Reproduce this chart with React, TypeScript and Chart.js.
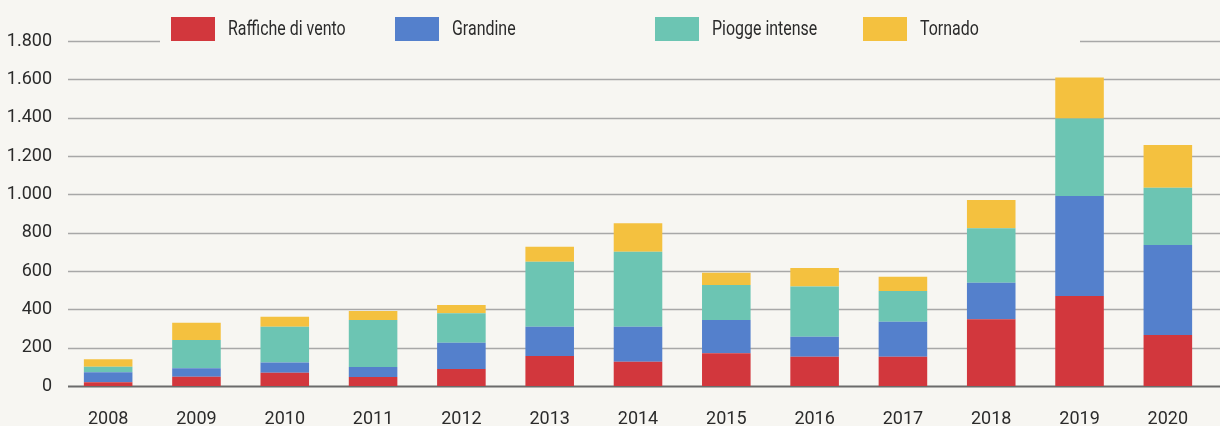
import React, { useEffect, useRef } from "react";
import { Chart, registerables } from "chart.js";

Chart.register(...registerables);

const years = ["2008", "2009", "2010", "2011", "2012", "2013", "2014", "2015", "2016", "2017", "2018", "2019", "2020"];
const raffiche = [20, 48, 69, 47, 89, 156, 127, 171, 153, 153, 348, 469, 266];
const grandine = [52, 44, 53, 52, 137, 153, 182, 173, 104, 182, 191, 522, 470];
const piogge = [28, 148, 187, 245, 153, 339, 392, 183, 262, 161, 284, 405, 298];
const tornado = [40, 90, 52, 47, 44, 79, 148, 64, 97, 74, 147, 214, 223];
const seriesNames = ["Raffiche di vento", "Grandine", "Piogge intense", "Tornado"];
const seriesColors = ["#d2373d", "#5480cc", "#6cc5b3", "#f4c13f"];
const yTicks = [0, 200, 400, 600, 800, 1000, 1200, 1400, 1600, 1800];

const BG = "#f7f6f2";
const FONT = "Roboto, sans-serif";
const TEXT = "#2b2b2b";
const legendX = [171, 395, 655, 863];

function fmt(v: number): string {
  return String(v).replace(/\B(?=(\d{3})+(?!\d))/g, ".");
}

const bgPlugin = {
  id: "bgPlugin",
  beforeDraw(chart: any) {
    const ctx = chart.ctx;
    ctx.save();
    ctx.fillStyle = BG;
    ctx.fillRect(0, 0, chart.width, chart.height);
    ctx.restore();
  },
};

const gridPlugin = {
  id: "gridPlugin",
  beforeDatasetsDraw(chart: any) {
    const ctx = chart.ctx;
    const y = chart.scales.y;
    ctx.save();
    y.ticks.forEach((t: any) => {
      const py = Math.round(y.getPixelForValue(t.value)) + 0.5;
      ctx.beginPath();
      ctx.strokeStyle = t.value === 0 ? "#6b6b6b" : "#a8a8a8";
      ctx.lineWidth = t.value === 0 ? 2 : 1.5;
      ctx.moveTo(68, py);
      ctx.lineTo(chart.width, py);
      ctx.stroke();
    });
    ctx.restore();
  },
};

const legendPlugin = {
  id: "legendPlugin",
  afterDatasetsDraw(chart: any) {
    const ctx = chart.ctx;
    ctx.save();
    ctx.fillStyle = BG;
    ctx.fillRect(160, 8, 920, 42);
    ctx.font = `21px ${FONT}`;
    ctx.textBaseline = "middle";
    ctx.textAlign = "left";
    seriesNames.forEach((name, i) => {
      const x = legendX[i];
      ctx.fillStyle = seriesColors[i];
      ctx.fillRect(x, 17, 44, 24);
      ctx.fillStyle = TEXT;
      ctx.save();
      ctx.translate(x + 57, 30);
      ctx.scale(0.76, 1);
      ctx.fillText(name, 0, 0);
      ctx.restore();
    });
    ctx.restore();
  },
};

export default function App() {
  const ref = useRef<HTMLCanvasElement | null>(null);
  useEffect(() => {
    document.body.style.margin = "0";
    document.body.style.background = BG;
    const canvas = ref.current;
    if (!canvas) return;
    const chart = new Chart(canvas, {
      type: "bar",
      data: {
        labels: years,
        datasets: [raffiche, grandine, piogge, tornado].map((d, i) => ({
          label: seriesNames[i],
          data: d,
          backgroundColor: seriesColors[i],
          borderWidth: 0,
          barPercentage: 0.55,
          categoryPercentage: 1,
        })),
      },
      options: {
        animation: false,
        responsive: false,
        maintainAspectRatio: false,
        layout: { padding: { top: 41, right: 8, left: 0, bottom: 0 } },
        plugins: { legend: { display: false }, tooltip: { enabled: false }, title: { display: false } },
        scales: {
          x: {
            stacked: true,
            grid: { display: false },
            border: { display: false },
            ticks: { color: TEXT, font: { family: FONT, size: 18 }, padding: 15 },
            afterFit(scale: any) {
              scale.height = 40;
            },
          },
          y: {
            stacked: true,
            min: 0,
            max: 1800,
            afterBuildTicks(scale: any) {
              scale.ticks = yTicks.map((v) => ({ value: v }));
            },
            grid: { display: false, drawTicks: false },
            border: { display: false },
            ticks: {
              color: TEXT,
              font: { family: FONT, size: 18 },
              padding: 12,
              callback: (v: any) => fmt(Number(v)),
            },
            afterFit(scale: any) {
              scale.width = 64;
            },
          },
        },
      },
      plugins: [bgPlugin, gridPlugin, legendPlugin],
    });
    return () => chart.destroy();
  }, []);
  return (
    <div style={{ width: 1220, height: 426, background: BG }}>
      <canvas ref={ref} width={1220} height={426} style={{ display: "block" }} />
    </div>
  );
}
